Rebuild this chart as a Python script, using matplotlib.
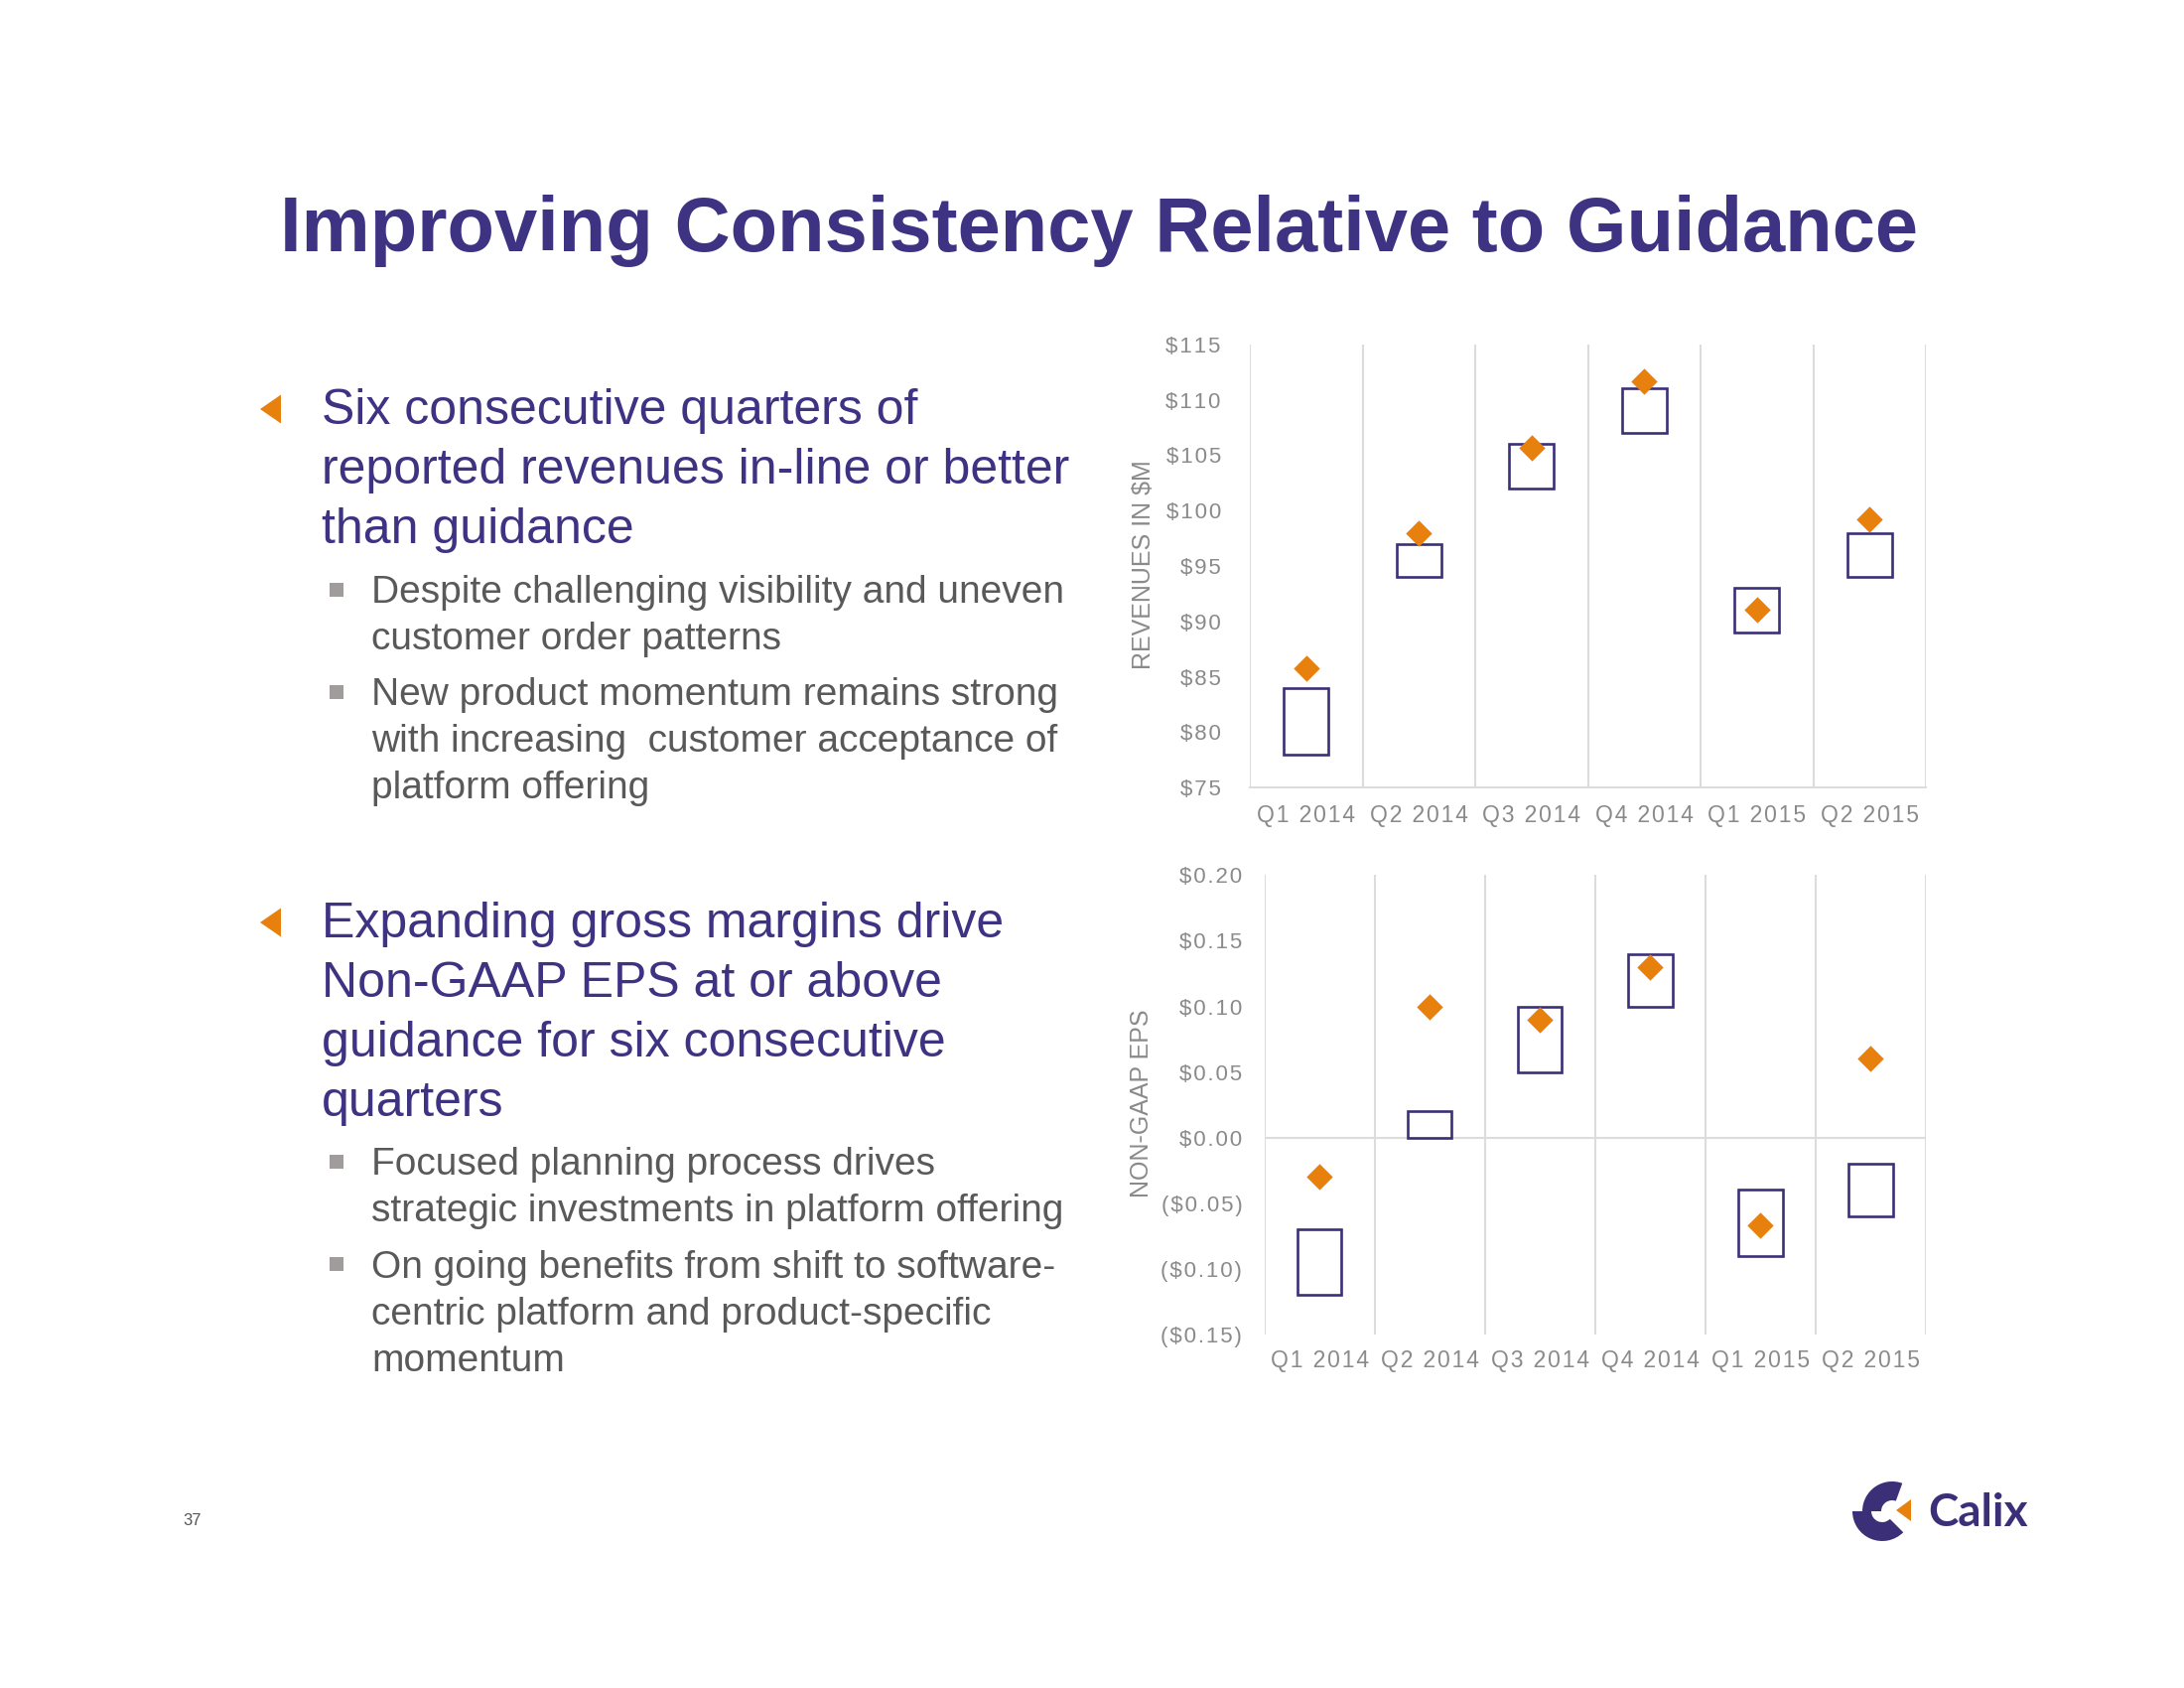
import numpy as np
import matplotlib.pyplot as plt
from matplotlib.patches import Polygon, Rectangle, Wedge
from matplotlib.path import Path

plt.rcParams['font.family'] = ['Liberation Sans', 'DejaVu Sans']

# data
quarters = ['Q1 2014', 'Q2 2014', 'Q3 2014', 'Q4 2014', 'Q1 2015', 'Q2 2015']

rev_guide_low = [78, 94, 102, 107, 89, 94]
rev_guide_high = [84, 97, 106, 111, 93, 98]
rev_actual = [85.8, 98.0, 105.7, 111.7, 91.1, 99.2]
rev_ticks = [75, 80, 85, 90, 95, 100, 105, 110, 115]
rev_tick_labels = ['$75', '$80', '$85', '$90', '$95', '$100', '$105', '$110', '$115']

eps_guide_low = [-0.12, 0.00, 0.05, 0.10, -0.09, -0.06]
eps_guide_high = [-0.07, 0.02, 0.10, 0.14, -0.04, -0.02]
eps_actual = [-0.03, 0.10, 0.09, 0.13, -0.067, 0.06]
eps_ticks = [-0.15, -0.10, -0.05, 0.00, 0.05, 0.10, 0.15, 0.20]
eps_tick_labels = ['($0.15)', '($0.10)', '($0.05)', '$0.00', '$0.05', '$0.10', '$0.15', '$0.20']

title = 'Improving Consistency Relative to Guidance'
bullet1 = ['Six consecutive quarters of', 'reported revenues in-line or better', 'than guidance']
bullet1_subs = [['Despite challenging visibility and uneven', 'customer order patterns'],
                ['New product momentum remains strong', 'with increasing  customer acceptance of',
                 'platform offering']]
bullet2 = ['Expanding gross margins drive', 'Non-GAAP EPS at or above',
           'guidance for six consecutive', 'quarters']
bullet2_subs = [['Focused planning process drives', 'strategic investments in platform offering'],
                ['On going benefits from shift to software-', 'centric platform and product-specific',
                 'momentum']]

PURPLE = '#3e3283'
BOX = '#3b2f78'
ORANGE = '#e8800e'
GRID = '#dcdcdc'
TICK = '#8a8a8a'
SUBTXT = '#595959'

W, H = 2200, 1700
fig = plt.figure(figsize=(22, 17), dpi=100)


def rect(l, t, r, b):
    return [l / W, 1 - b / H, (r - l) / W, (b - t) / H]


def spaced(s):
    # the axis labels in the slide use wide letter spacing
    return '\u200a'.join(s)


diamond = Path([(0, 1), (1, 0), (0, -1), (-1, 0), (0, 1)],
               [Path.MOVETO, Path.LINETO, Path.LINETO, Path.LINETO, Path.CLOSEPOLY])
x = np.arange(len(quarters))


def range_chart(ax, lo, hi, act, ticks, tlabels, ylim, ylabel, ypad, xpad, lab_x):
    lo = np.array(lo)
    hi = np.array(hi)
    ax.bar(x, hi - lo, bottom=lo, width=0.4, fill=False, edgecolor=BOX, linewidth=1.9, zorder=3)
    ax.plot(x, act, linestyle='none', marker=diamond, markersize=19,
            color=ORANGE, markeredgewidth=0, zorder=4)
    for b in np.arange(-0.5, len(quarters)):
        ax.axvline(b, color=GRID, linewidth=1.5, zorder=1)
    ax.set_xlim(-0.5, len(quarters) - 0.5)
    ax.set_ylim(*ylim)
    ax.set_yticks(ticks)
    ax.set_yticklabels([spaced(t) for t in tlabels])
    ax.set_xticks(x)
    ax.set_xticklabels([spaced(q) for q in quarters])
    ax.tick_params(axis='y', length=0, pad=ypad, labelsize=16, labelcolor=TICK)
    ax.tick_params(axis='x', length=0, pad=xpad, labelsize=16.5, labelcolor=TICK)
    for s in ax.spines.values():
        s.set_visible(False)
    ax.text(lab_x, 0.503, ylabel, transform=ax.transAxes, rotation=90,
            ha='center', va='center', fontsize=18, color=TICK)


ax1 = fig.add_axes(rect(1259, 346.7, 1940, 793.3))
range_chart(ax1, rev_guide_low, rev_guide_high, rev_actual, rev_ticks, rev_tick_labels,
            (75, 115), 'REVENUES IN $M', 21, 12, -0.157)
ax1.spines['bottom'].set_visible(True)
ax1.spines['bottom'].set_color(GRID)
ax1.spines['bottom'].set_linewidth(1.5)

ax2 = fig.add_axes(rect(1273.5, 881.4, 1940, 1343.8))
range_chart(ax2, eps_guide_low, eps_guide_high, eps_actual, eps_ticks, eps_tick_labels,
            (-0.15, 0.20), 'NON-GAAP EPS', 16, 11, -0.185)
ax2.axhline(0, color=GRID, linewidth=1.5, zorder=1)

# page overlay in pixel units
ov = fig.add_axes([0, 0, 1, 1])
ov.set_xlim(0, W)
ov.set_ylim(H, 0)
ov.axis('off')
ov.patch.set_alpha(0)

ov.text(1107, 253, title, ha='center', va='baseline', fontsize=56,
        fontweight='bold', color=PURPLE)


def block(lines, subs, top_base, tri_y, sub_starts, sub_squares):
    ov.add_patch(Polygon([(262, tri_y), (283, tri_y - 14.5), (283, tri_y + 14.5)],
                         closed=True, color=ORANGE, lw=0))
    for i, ln in enumerate(lines):
        ov.text(324, top_base + 60 * i, ln, fontsize=36, color=PURPLE, va='baseline')
    for sub, sb, sq in zip(subs, sub_starts, sub_squares):
        ov.add_patch(Rectangle((332, sq - 7), 14, 14, color='#a09c9c', lw=0))
        for j, ln in enumerate(sub):
            ov.text(374, sb + 47 * j, ln, fontsize=28, color=SUBTXT, va='baseline')


block(bullet1, bullet1_subs, 427, 412, [607, 710], [594, 697])
block(bullet2, bullet2_subs, 944, 929, [1183, 1287], [1170, 1273])

ov.text(194, 1531, '37', fontsize=12, color='#555555', ha='center', va='center')

# Calix logo
ov.add_patch(Wedge((1906, 1522), 30, 180, 290, width=19, color=BOX, lw=0))
ov.add_patch(Wedge((1896, 1522), 30, 45, 180, width=19, color=BOX, lw=0))
ov.add_patch(Polygon([(1910, 1521), (1925, 1510), (1925, 1532)], closed=True, color=ORANGE, lw=0))
ov.text(1942, 1537, 'Calix', fontsize=33, fontweight='bold', family=['Lato', 'DejaVu Sans'],
        color=BOX, va='baseline')

fig.savefig('out.png', dpi=100)
